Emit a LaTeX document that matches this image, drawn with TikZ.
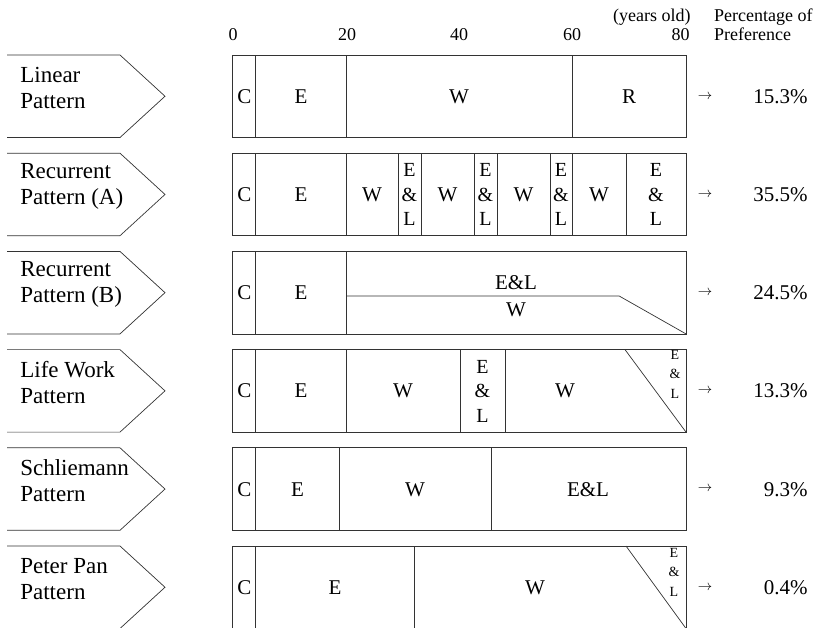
\documentclass[tikz,border=0pt]{standalone}
\usepackage{fontspec}
\setmainfont{Liberation Serif}
\begin{document}
\begin{tikzpicture}[x=1pt,y=-1pt,line width=0.7pt,
  edge/.style={draw=black!80},
  lbl/.style={font=\fontsize{23}{26}\selectfont,align=left,inner sep=0pt,anchor=west},
  seg/.style={font=\fontsize{21}{24}\selectfont,inner sep=0pt},
  stack/.style={font=\fontsize{20}{24.5}\selectfont,align=center,inner sep=0pt},
  tinystack/.style={font=\fontsize{14}{19.5}\selectfont,align=center,inner sep=0pt},
  hdr/.style={font=\fontsize{18}{20}\selectfont,inner sep=0pt},
  pct/.style={font=\fontsize{21}{24}\selectfont,anchor=east,inner sep=0pt},
  arr/.style={font=\fontsize{14}{16}\selectfont,inner sep=0pt}]
\useasboundingbox (0,0) rectangle (814,627);

% header
\node[hdr,anchor=base] (t0) at (233,40) {0};
\node[hdr,anchor=base] (t20) at (347,40) {20};
\node[hdr,anchor=base] (t40) at (459,40) {40};
\node[hdr,anchor=base] (t60) at (572,40) {60};
\node[hdr,anchor=base east] (t80) at (690,40) {80};
\node[hdr,anchor=base east] (yo) at (691,21) {(years old)};
\node[hdr,anchor=base east] (po) at (813,21) {Percentage of};
\node[hdr,anchor=base west] (pr) at (po.base west |- 0,40) {Preference};

% row shapes
\foreach \i in {0,...,5}{
  \begin{scope}[yshift=-98.2*\i pt]
    \draw[edge] (7,55) -- (120,55) -- (165,96.25) -- (120,137.5) -- (7,137.5);
    \draw[edge] (232.7,55) rectangle (686,137.5);
    \draw[edge] (255.5,55) -- (255.5,137.5);
    \node[seg] (c\i) at (244.5,96.5) {C};
    \node[arr] (a\i) at (705,96.5) {$\rightarrow$};
  \end{scope}
}

% Row 1
\begin{scope}[yshift=0pt]
  \foreach \x in {346.7,572} \draw[edge] (\x,55) -- (\x,137.5);
  \node[lbl] (l1) at (20,88) {Linear\\Pattern};
  \node[seg] (r1e) at (301,96.5) {E};
  \node[seg] (r1w) at (459,96.5) {W};
  \node[seg] (r1r) at (629,96.5) {R};
  \node[pct] (p1) at (808,96.5) {15.3\%};
\end{scope}

% Row 2
\begin{scope}[yshift=-98.2pt]
  \foreach \x in {346.7,398,421,474,497,550,572,626} \draw[edge] (\x,55) -- (\x,137.5);
  \node[lbl] (l2) at (20,88) {Recurrent\\Pattern (A)};
  \node[seg] (r2e) at (301,96.5) {E};
  \node[seg] (r2w1) at (372,96.5) {W};
  \node[stack] (r2x1) at (409.5,96.5) {E\\\&\\L};
  \node[seg] (r2w2) at (447.5,96.5) {W};
  \node[stack] (r2x2) at (485.5,96.5) {E\\\&\\L};
  \node[seg] (r2w3) at (523.5,96.5) {W};
  \node[stack] (r2x3) at (561,96.5) {E\\\&\\L};
  \node[seg] (r2w4) at (599,96.5) {W};
  \node[stack] (r2x4) at (656,96.5) {E\\\&\\L};
  \node[pct] (p2) at (808,96.5) {35.5\%};
\end{scope}

% Row 3
\begin{scope}[yshift=-196.4pt]
  \draw[edge] (346.7,55) -- (346.7,137.5);
  \draw[edge] (346.7,99.5) -- (619,99.5) -- (686,137.5);
  \node[lbl] (l3) at (20,88) {Recurrent\\Pattern (B)};
  \node[seg] (r3e) at (301,96.5) {E};
  \node[seg] (r3x) at (516,86) {E\&L};
  \node[seg] (r3w) at (516,113) {W};
  \node[pct] (p3) at (808,96.5) {24.5\%};
\end{scope}

% Row 4
\begin{scope}[yshift=-294.6pt]
  \foreach \x in {346.7,460,505} \draw[edge] (\x,55) -- (\x,137.5);
  \draw[edge] (625,55) -- (686,137.5);
  \node[lbl] (l4) at (20,88) {Life Work\\Pattern};
  \node[seg] (r4e) at (301,96.5) {E};
  \node[seg] (r4w1) at (403,96.5) {W};
  \node[stack] (r4x) at (482.5,96.5) {E\\\&\\L};
  \node[seg] (r4w2) at (565,96.5) {W};
  \node[tinystack] (r4t) at (675,79.5) {E\\\&\\L};
  \node[pct] (p4) at (808,96.5) {13.3\%};
\end{scope}

% Row 5
\begin{scope}[yshift=-392.8pt]
  \foreach \x in {339.5,491} \draw[edge] (\x,55) -- (\x,137.5);
  \node[lbl] (l5) at (20,88) {Schliemann\\Pattern};
  \node[seg] (r5e) at (297.5,96.5) {E};
  \node[seg] (r5w) at (415,96.5) {W};
  \node[seg] (r5x) at (588,96.5) {E\&L};
  \node[pct] (p5) at (808,96.5) {9.3\%};
\end{scope}

% Row 6
\begin{scope}[yshift=-491pt]
  \draw[edge] (414.5,55) -- (414.5,137.5);
  \draw[edge] (626,55) -- (686,137.5);
  \node[lbl] (l6) at (20,88) {Peter Pan\\Pattern};
  \node[seg] (r6e) at (335,96.5) {E};
  \node[seg] (r6w) at (535,96.5) {W};
  \node[tinystack] (r6t) at (674,81) {E\\\&\\L};
  \node[pct] (p6) at (808,96.5) {0.4\%};
\end{scope}
\end{tikzpicture}
\end{document}
